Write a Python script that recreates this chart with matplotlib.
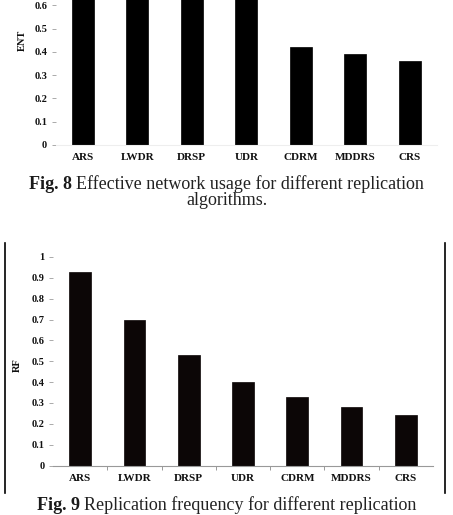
import matplotlib
matplotlib.use("Agg")
import matplotlib.pyplot as plt
from matplotlib.lines import Line2D
import numpy as np

W, H = 453, 515

algorithms = ["ARS", "LWDR", "DRSP", "UDR", "CDRM", "MDDRS", "CRS"]
# Fig. 8: the first four bars run off the top of the crop
ent_values = [0.95, 0.90, 0.85, 0.80, 0.42, 0.39, 0.36]
# Fig. 9
rf_values = [0.93, 0.70, 0.53, 0.40, 0.33, 0.28, 0.24]

y_ticks = [0, 0.1, 0.2, 0.3, 0.4, 0.5, 0.6, 0.7, 0.8, 0.9, 1.0]
y_tick_labels = ["0", "0.1", "0.2", "0.3", "0.4", "0.5", "0.6", "0.7", "0.8", "0.9", "1"]

plt.rcParams["font.family"] = ["Liberation Serif", "DejaVu Serif"]

fig = plt.figure(figsize=(W / 100, H / 100), dpi=100)


def px_axes(left, right, y0, y1):
    # pixel box (from top-left) -> figure fraction rect
    return [left / W, 1 - y0 / H, (right - left) / W, (y0 - y1) / H]


def style_axes(ax, values, ylabel, label_xy, bar_color, axis_color):
    x = np.arange(len(algorithms))
    ax.bar(x, values, width=0.4, color=bar_color, edgecolor=bar_color, linewidth=0.5)
    ax.set_xlim(-0.5, len(algorithms) - 0.5)
    ax.set_ylim(0, 1.0)
    ax.set_yticks(y_ticks)
    ax.set_yticklabels(y_tick_labels, fontsize=7.5, fontweight="bold", color="#111111")
    ax.set_xticks(x)
    ax.set_xticklabels(algorithms, fontsize=8, fontweight="bold", color="#111111")
    for s in ["top", "right", "left"]:
        ax.spines[s].set_visible(False)
    ax.spines["bottom"].set_color(axis_color)
    ax.spines["bottom"].set_linewidth(0.8)
    ax.tick_params(axis="y", length=3, width=0.7, color="#aaaaaa", pad=3)
    ax.tick_params(axis="x", length=0, pad=6)
    ax.set_ylabel(ylabel, fontsize=7.5, fontweight="bold", color="#111111")
    ax.yaxis.set_label_coords(label_xy[0] / W, 1 - label_xy[1] / H, transform=fig.transFigure)
    ax.patch.set_alpha(0)


def caption(y_px, bold, rest, size=13):
    t1 = fig.text(0, 1 - y_px / H, bold, fontsize=size, fontweight="bold",
                  va="baseline", color="#1a1a1a")
    t2 = fig.text(0, 1 - y_px / H, rest, fontsize=size, va="baseline", color="#222222")
    fig.canvas.draw()
    r = fig.canvas.get_renderer()
    w1 = t1.get_window_extent(r).width
    w2 = t2.get_window_extent(r).width
    gap = size * 0.3
    x0 = (W - (w1 + gap + w2)) / 2
    t1.set_x(x0 / W)
    t2.set_x((x0 + w1 + gap) / W)


# Fig. 8 chart, cropped at the top of the page
ax1 = fig.add_axes(px_axes(55.5, 437, 145, 145 - 233))
style_axes(ax1, ent_values, "ENT", (27, 40), "black", "#eeeeee")

# Fig. 9 chart
ax2 = fig.add_axes(px_axes(53, 433, 465.5, 257))
style_axes(ax2, rf_values, "RF", (22, 365), "#0c0606", "#999999")
ax2.set_xticks(np.arange(len(algorithms) - 1) + 0.5, minor=True)
ax2.tick_params(axis="x", which="minor", length=3, width=0.7, color="#999999")

# frame around Fig. 9 chart (only side rules show in the crop)
for xp in (4.5, 444.7):
    fig.add_artist(Line2D([xp / W, xp / W], [1 - 243 / H, 1 - 493 / H],
                          transform=fig.transFigure, color="black", linewidth=1.2))

caption(189, "Fig. 8", "Effective network usage for different replication")
fig.text(0.5, 1 - 205 / H, "algorithms.", fontsize=13, ha="center", va="baseline",
         color="#222222")
caption(510, "Fig. 9", "Replication frequency for different replication")

fig.savefig("out.png", dpi=100)
